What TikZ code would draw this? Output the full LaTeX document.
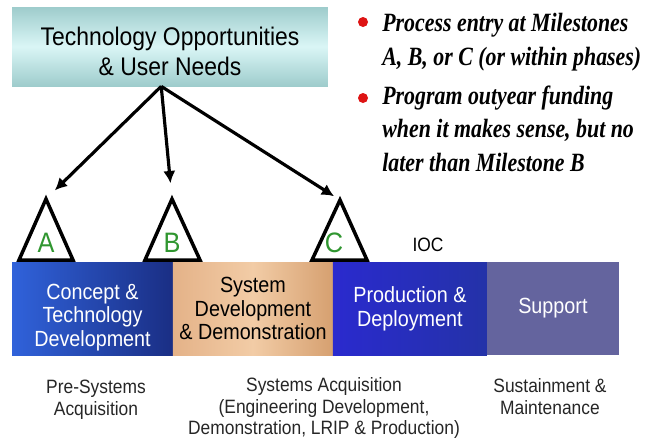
\documentclass[tikz,border=0pt]{standalone}
\usepackage{fontspec}
\setmainfont{Liberation Sans}
\newfontfamily\condsans[FakeStretch=0.9]{Liberation Sans}
\newfontfamily\notefont[FakeStretch=0.83]{Liberation Serif}
\usetikzlibrary{arrows.meta, positioning}
\definecolor{needsfill}{RGB}{158,204,204}
\definecolor{needsglow}{RGB}{218,246,246}
\definecolor{cptleft}{RGB}{48,98,218}
\definecolor{cptright}{RGB}{26,46,132}
\definecolor{sddleft}{RGB}{228,178,136}
\definecolor{sddmid}{RGB}{242,204,166}
\definecolor{sddright}{RGB}{214,160,112}
\definecolor{pdleft}{RGB}{42,42,206}
\definecolor{pdright}{RGB}{36,50,168}
\definecolor{support}{RGB}{100,100,158}
\definecolor{msgreen}{RGB}{48,150,48}
\definecolor{bulletred}{RGB}{222,20,20}

\begin{document}
\begin{tikzpicture}[
    x=0.02cm, y=-0.02cm,
    needs/.style={rectangle, top color=needsfill, bottom color=needsfill, middle color=needsglow, minimum width=6.32cm, minimum height=1.58cm, align=center, font=\condsans\fontsize{14.5}{17}\selectfont},
    phase/.style={rectangle, minimum height=1.86cm, inner sep=0pt, outer sep=0pt, align=center, font=\condsans\fontsize{12.5}{13.5}\selectfont},
    milestone/.style={draw=black, line width=2pt, fill=white, line join=miter},
    mslabel/.style={text=msgreen, inner sep=0pt, font=\condsans\fontsize{16}{16}\selectfont},
    fanarrow/.style={-{Latex[length=7pt,width=7pt]}, line width=1.8pt},
    note/.style={anchor=base west, align=left, inner sep=0pt, font=\notefont\bfseries\itshape\fontsize{15}{18.8}\selectfont},
    bulletdot/.style={circle, fill=bulletred, inner sep=0pt, minimum size=0.2cm},
    phasegroup/.style={align=center, text=black!85, font=\condsans\fontsize{11}{12.5}\selectfont}
]
\useasboundingbox (0,0) rectangle (645,441);

% needs box
\node[needs] (needs) at (170,46.5) {\rule{0pt}{16pt}Technology Opportunities\\\& User Needs};

% notes (base = last line)
\node[bulletdot] (dot1) at (363,22) {};
\node[note] (note1) at (382,65) {Process entry at Milestones\\A, B, or C (or within phases)};
\node[bulletdot] (dot2) at (363,98) {};
\node[note] (note2) at (382,171) {Program outyear funding\\when it makes sense, but no\\later than Milestone B};

% phases
\node[phase, minimum width=3.22cm, left color=cptleft, right color=cptright, text=white] (concept) at (92.5,308.5) {\rule{0pt}{19pt}Concept \&\\Technology\\Development};
\node[phase, minimum width=3.2cm, left color=sddleft, right color=sddright, middle color=sddmid, right=0pt of concept] (sysdev) {System\\Development\\\& Demonstration};
\node[phase, minimum width=3.08cm, left color=pdleft, right color=pdright, text=white, right=0pt of sysdev] (proddep) {Production \&\\Deployment};
\node[phase, minimum width=2.64cm, fill=support, text=white, right=0pt of proddep] (support) {Support};

% milestones
\coordinate (apexA) at (46,199);
\coordinate (apexB) at (172,199);
\coordinate (apexC) at (340,200);
\draw[milestone] (19,260) -- (apexA) -- (73,260) -- cycle;
\draw[milestone] (145,260) -- (apexB) -- (200,260) -- cycle;
\draw[milestone] (312,260) -- (apexC) -- (367,260) -- cycle;
\node[mslabel] (labelA) at (46,243) {A};
\node[mslabel] (labelB) at (172,243) {B};
\node[mslabel] (labelC) at (334,243) {C};
\node[font=\condsans\fontsize{11}{11}\selectfont] (ioc) at (428,245) {IOC};

% arrows
\coordinate (fan) at ([xshift=-5pt]needs.south);
\draw[fanarrow, shorten >=7pt] (fan) -- (apexA);
\draw[fanarrow, shorten >=9pt] (fan) -- (apexB);
\draw[fanarrow, shorten >=4pt] (fan) -- (apexC);

% phase groups
\node[phasegroup] (presys) at (96,400) {Pre-Systems\\Acquisition};
\node[phasegroup] (sysacq) at (324,408) {Systems Acquisition\\(Engineering Development,\\Demonstration, LRIP \& Production)};
\node[phasegroup] (sustain) at (550,397) {Sustainment \&\\Maintenance};

\end{tikzpicture}
\end{document}
